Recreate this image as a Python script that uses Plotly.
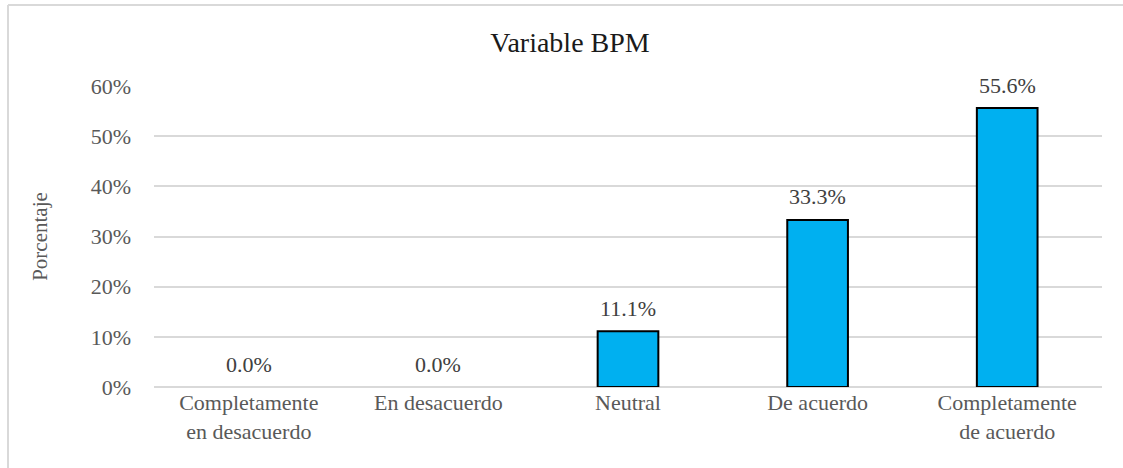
import plotly.graph_objects as go

categories = ["Completamente<br>en desacuerdo", "En desacuerdo", "Neutral", "De acuerdo", "Completamente<br>de acuerdo"]
values = [0.0, 0.0, 11.1, 33.3, 55.6]
tick_vals = [0, 10, 20, 30, 40, 50, 60]
tick_text = ["0%", "10%", "20%", "30%", "40%", "50%", "60%"]

FONT = "Liberation Serif, Times New Roman, serif"
W, H = 1123, 468
L, R, T, B = 154, 21, 86, 81
pw, ph = W - L - R, H - T - B

fig = go.Figure(go.Bar(
    x=categories, y=values,
    marker=dict(color="#00B0F0",
                line=dict(color="#000000", width=[0 if v == 0 else 2 for v in values])),
    hoverinfo="x+y",
))

annotations = [
    dict(x=c, y=v, xref="x", yref="y", text=f"{v:.1f}%", showarrow=False,
         yanchor="middle", yshift=23,
         font=dict(family=FONT, size=22, color="#404040"))
    for c, v in zip(categories, values)
]

fig.update_layout(
    width=W, height=H,
    margin=dict(l=L, r=R, t=T, b=B),
    paper_bgcolor="white", plot_bgcolor="white",
    bargap=0.68,
    showlegend=False,
    annotations=annotations,
    title=dict(text="Variable BPM", x=570 / W, xanchor="center",
               y=1 - 42 / H, yanchor="middle",
               font=dict(family=FONT, size=28, color="#1a1a1a")),
    font=dict(family=FONT, size=22, color="#595959"),
    xaxis=dict(showgrid=False, showline=False, ticks="",
               tickfont=dict(family=FONT, size=22, color="#595959")),
    yaxis=dict(range=[0, 60], tickvals=tick_vals, ticktext=tick_text,
               showgrid=True, gridcolor="#d9d9d9", gridwidth=1.5,
               zeroline=True, zerolinecolor="#d9d9d9", zerolinewidth=1.5,
               showline=False, ticks="", ticklabelstandoff=22,
               tickfont=dict(family=FONT, size=22, color="#595959"),
               title=dict(text="Porcentaje", standoff=37,
                          font=dict(family=FONT, size=21, color="#595959"))),
    shapes=[
        dict(type="line", xref="paper", yref="paper",
             x0=(8 - L) / pw, x1=(W - L) / pw, y0=(H - B - 5) / ph, y1=(H - B - 5) / ph,
             line=dict(color="#d9d9d9", width=2)),
        dict(type="line", xref="paper", yref="paper",
             x0=(8 - L) / pw, x1=(8 - L) / pw, y0=(H - B - 5) / ph, y1=(H - B - H) / ph,
             line=dict(color="#d9d9d9", width=2)),
    ],
)

fig.write_html("out.html", config={"displayModeBar": False},
               post_script="document.body.style.margin='0';")
